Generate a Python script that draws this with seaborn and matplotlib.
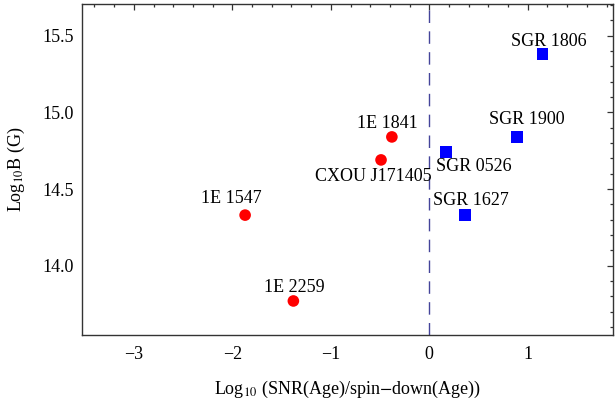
import matplotlib
matplotlib.use("Agg")
import matplotlib.pyplot as plt
from matplotlib.ticker import MultipleLocator
import seaborn as sns
import pandas as pd

# Magnetar sample: age-ratio vs. dipole field
names = ["1E 1547", "1E 2259", "1E 1841", "CXOU J171405",
         "SGR 1806", "SGR 1900", "SGR 0526", "SGR 1627"]
log_age_ratio = [-1.87, -1.38, -0.38, -0.49, 1.15, 0.89, 0.17, 0.36]
log_b = [14.33, 13.77, 14.84, 14.69, 15.38, 14.84, 14.74, 14.33]
kind = ["AXP", "AXP", "AXP", "AXP", "SGR", "SGR", "SGR", "SGR"]

# label placement in pixels relative to each point (dx, dy up)
label_dx = [-14, 1, -4, -8, 6, 10, 28, 6]
label_dy = [11.7, 9.4, 9.3, -20.7, 8.6, 13.4, -19.0, 10.0]

df = pd.DataFrame({"x": log_age_ratio, "y": log_b, "kind": kind, "name": names})

sns.set_theme(style="white")
plt.rcParams["font.family"] = ["Liberation Serif", "DejaVu Serif"]
plt.rcParams["mathtext.fontset"] = "stix"

DPI = 100
fig = plt.figure(figsize=(6.15, 4.04), dpi=DPI)
ax = fig.add_axes([82 / 615, 1 - 335 / 404, (613 - 82) / 615, (335 - 4.3) / 404])

ax.axvline(0, color="#44449a", lw=1.0, dashes=(9, 6), zorder=1)

sns.scatterplot(data=df, x="x", y="y", hue="kind", style="kind",
                palette={"AXP": "#ff0000", "SGR": "#0000ff"},
                markers={"AXP": "o", "SGR": "s"},
                s=70, linewidth=0, legend=False, ax=ax, zorder=3)

px2pt = 72.0 / DPI
for n, xv, yv, dx, dy in zip(names, log_age_ratio, log_b, label_dx, label_dy):
    ax.annotate(n, (xv, yv), xytext=(dx * px2pt, dy * px2pt),
                textcoords="offset points", ha="center", va="baseline",
                fontsize=13, color="black")

ax.set_xlim(-3.526, 1.865)
ax.set_ylim(13.548, 15.705)

ax.xaxis.set_major_locator(MultipleLocator(1))
ax.xaxis.set_minor_locator(MultipleLocator(0.2))
ax.yaxis.set_major_locator(MultipleLocator(0.5))
ax.yaxis.set_minor_locator(MultipleLocator(0.1))
ax.set_yticks([14.0, 14.5, 15.0, 15.5])
ax.set_yticklabels(["14.0", "14.5", "15.0", "15.5"])

ax.tick_params(which="both", direction="in", top=True, right=True,
               labeltop=False, labelright=False, color="#333333",
               labelsize=13, labelcolor="black", width=0.9)
ax.tick_params(which="major", length=4.5)
ax.tick_params(axis="x", which="major", pad=8)
ax.tick_params(axis="y", which="major", pad=6)
ax.tick_params(which="minor", length=2.3)

for sp in ax.spines.values():
    sp.set_color("#333333")
    sp.set_linewidth(1.0)

ax.set_xlabel(r"Log$_{10}$ (SNR(Age)/spin$-$down(Age))", fontsize=13,
              labelpad=11, color="black")
ax.set_ylabel(r"Log$_{10}$B (G)", fontsize=13, labelpad=11, color="black")

fig.savefig("out.png", dpi=DPI)
